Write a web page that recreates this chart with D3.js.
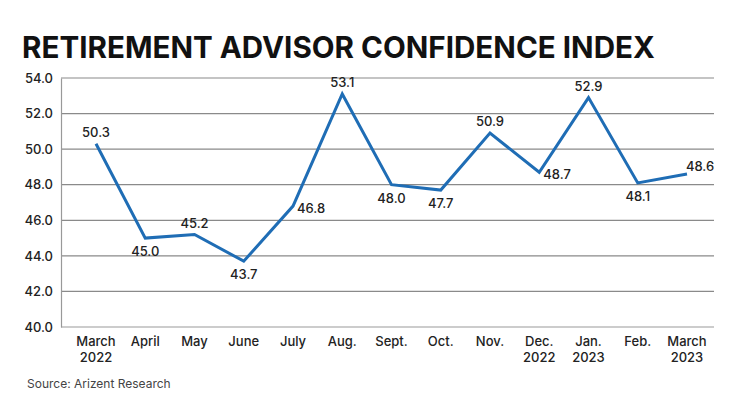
<!DOCTYPE html>
<html>
<head>
<meta charset="utf-8">
<script src="https://cdn.jsdelivr.net/npm/d3@7"></script>
<style>
  body { margin: 0; background: #fff; }
  text { font-family: Inter, "Noto Sans", sans-serif; }
</style>
</head>
<body>
<div id="chart"></div>
<script>
// chart data
var months = ["March", "April", "May", "June", "July", "Aug.", "Sept.", "Oct.", "Nov.", "Dec.", "Jan.", "Feb.", "March"];
var years = ["2022", "", "", "", "", "", "", "", "", "2022", "2023", "", "2023"];
var values = [50.3, 45.0, 45.2, 43.7, 46.8, 53.1, 48.0, 47.7, 50.9, 48.7, 52.9, 48.1, 48.6];
// where each value label sits: above, below, right, below-right, above-right
var labelPos = ["above", "below", "above", "below", "right", "above", "below", "below", "above", "right", "above", "below", "aboveRight"];
var yTicks = [40, 42, 44, 46, 48, 50, 52, 54];

var width = 740, height = 415;
var margins = { L: 61, R: 26, T: 78, B: 88 };
// first and last point sit a bit inside the plot box
var inset = { L: 35, R: 27 };

var svg = d3.select('#chart').append('svg')
	.attr('width', width)
	.attr('height', height);

svg.append('text')
	.attr('x', 22)
	.attr('y', 58)
	.attr('font-size', 29.6)
	.attr('font-weight', 700)
	.attr('fill', '#111')
	.text('RETIREMENT ADVISOR CONFIDENCE INDEX');

var xScale = d3.scalePoint()
	.domain(d3.range(months.length))
	.range([margins.L + inset.L, width - margins.R - inset.R]);

var yScale = d3.scaleLinear()
	.domain([40, 54])
	.range([height - margins.B, margins.T]);

// gridlines
svg.append('g')
	.selectAll('line')
	.data(yTicks)
	.enter().append('line')
	.attr('x1', margins.L)
	.attr('x2', width - margins.R)
	.attr('y1', d => yScale(d))
	.attr('y2', d => yScale(d))
	.attr('stroke', d => d === 40 ? '#999' : '#8a8a8a')
	.attr('stroke-width', 1.2);

// y axis
var yAxis = svg.append('g')
	.attr('transform', 'translate(' + margins.L + ',0)')
	.call(d3.axisLeft(yScale)
		.tickValues(yTicks)
		.tickFormat(d3.format('.1f'))
		.tickSize(0)
		.tickPadding(8));
yAxis.select('.domain').attr('stroke', '#999').attr('stroke-width', 1.2);
yAxis.selectAll('text')
	.attr('font-size', 13)
	.attr('font-family', 'Inter, sans-serif')
	.attr('font-weight', 500)
	.attr('fill', '#222');

// x labels
var xAxis = svg.append('g')
	.attr('transform', 'translate(0,' + yScale(40) + ')');
var xl = xAxis.selectAll('text')
	.data(months)
	.enter().append('text')
	.attr('x', (d, i) => xScale(i))
	.attr('y', 19)
	.attr('text-anchor', 'middle')
	.attr('font-size', 13)
	.attr('font-weight', 500)
	.attr('fill', '#222');
xl.append('tspan').attr('x', (d, i) => xScale(i)).attr('dy', 0).text(d => d);
xl.append('tspan').attr('x', (d, i) => xScale(i)).attr('dy', 15.5).text((d, i) => years[i]);

// line
var line = d3.line()
	.x((d, i) => xScale(i))
	.y(d => yScale(d));

svg.append('path')
	.datum(values)
	.attr('d', line)
	.attr('fill', 'none')
	.attr('stroke', '#1f6db5')
	.attr('stroke-width', 3)
	.attr('stroke-linejoin', 'miter');

// value labels
svg.append('g')
	.selectAll('text')
	.data(values)
	.enter().append('text')
	.attr('x', (d, i) => {
		var p = labelPos[i];
		if (p === 'right') return xScale(i) + 4;
		if (p === 'aboveRight') return xScale(i) + 13;
		return xScale(i);
	})
	.attr('y', (d, i) => {
		var p = labelPos[i];
		var y = yScale(d);
		if (p === 'above') return y - 7;
		if (p === 'below') return y + 18;
		if (p === 'right') return y + 7;
		return y - 3;
	})
	.attr('text-anchor', (d, i) => labelPos[i] === 'right' ? 'start' : 'middle')
	.attr('font-size', 13)
	.attr('font-weight', 500)
	.attr('fill', '#222')
	.text(d => d3.format('.1f')(d));

svg.append('text')
	.attr('x', 27)
	.attr('y', 388)
	.attr('font-size', 12)
	.attr('fill', '#444')
	.text('Source: Arizent Research');
</script>
</body>
</html>
